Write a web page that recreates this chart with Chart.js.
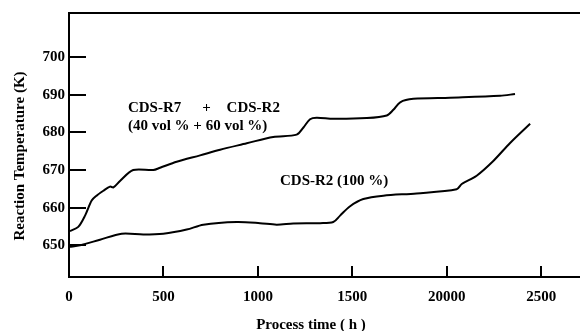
<!DOCTYPE html>
<html>
<head>
<meta charset="utf-8">
<script src="https://cdn.jsdelivr.net/npm/chart.js@4"></script>
<style>
  html, body { margin: 0; padding: 0; background: #fff; }
  #wrap { width: 580px; height: 331px; position: relative; }
</style>
</head>
<body>
<div id="wrap"><canvas id="chart"></canvas></div>
<script>
// values
const mixTime = [5, 49, 85, 120, 146, 182, 217, 235, 270, 340, 446, 482, 570, 694, 800, 941, 1081, 1205, 1241, 1276, 1311, 1399, 1576, 1682, 1717, 1753, 1823, 2017, 2282, 2361];
const mixTemp = [653.8, 654.9, 657.9, 661.9, 663.2, 664.5, 665.6, 665.4, 667.1, 670.0, 670.0, 670.6, 672.2, 673.9, 675.4, 677.1, 678.8, 679.4, 681.3, 683.5, 683.9, 683.6, 683.8, 684.5, 686.0, 688.0, 688.9, 689.2, 689.7, 690.2];

const r2Time = [3, 58, 164, 279, 393, 499, 623, 711, 888, 1011, 1099, 1187, 1329, 1399, 1435, 1488, 1558, 1664, 1840, 2052, 2079, 2158, 2246, 2335, 2441];
const r2Temp = [649.6, 650.0, 651.5, 653.1, 652.9, 653.1, 654.2, 655.5, 656.2, 655.9, 655.5, 655.8, 655.9, 656.2, 657.9, 660.4, 662.3, 663.2, 663.8, 664.9, 666.3, 668.5, 672.4, 677.2, 682.3];

const xTickValues = [0, 500, 1000, 1500, 2000, 2500];
const xTickLabels = ['0', '500', '1000', '1500', '20000', '2500'];
const yTickValues = [650, 660, 670, 680, 690, 700];

const FONT = 'bold 15px "Liberation Serif", "DejaVu Serif", serif';

const toPoints = (xs, ys) => xs.map((x, i) => ({ x: x, y: ys[i] }));

// inner tick marks, top frame line, titles and curve labels
const decorPlugin = {
    id: 'decor',
    afterDraw(chart) {
        const ctx = chart.ctx;
        const a = chart.chartArea;
        const xs = chart.scales.x;
        const ys = chart.scales.y;
        ctx.save();
        ctx.strokeStyle = '#000';
        ctx.lineWidth = 2;
        ctx.beginPath();
        ctx.moveTo(a.left - 1, a.top);
        ctx.lineTo(a.right, a.top);
        yTickValues.forEach(v => {
            const py = Math.round(ys.getPixelForValue(v));
            ctx.moveTo(a.left, py);
            ctx.lineTo(a.left + 17, py);
        });
        xTickValues.forEach(v => {
            const px = Math.round(xs.getPixelForValue(v));
            if (v === 0) return;
            ctx.moveTo(px, a.bottom);
            ctx.lineTo(px, a.bottom - 11);
        });
        ctx.stroke();

        ctx.fillStyle = '#000';
        ctx.font = FONT;
        ctx.textBaseline = 'middle';
        ctx.textAlign = 'left';
        ctx.fillText('CDS-R7', xs.getPixelForValue(312), ys.getPixelForValue(686.4));
        ctx.fillText('+', xs.getPixelForValue(705), ys.getPixelForValue(686.4));
        ctx.fillText('CDS-R2', xs.getPixelForValue(834), ys.getPixelForValue(686.4));
        ctx.fillText('(40 vol % + 60 vol %)', xs.getPixelForValue(312), ys.getPixelForValue(681.6));
        ctx.fillText('CDS-R2 (100 %)', xs.getPixelForValue(1117), ys.getPixelForValue(667.1));

        ctx.textAlign = 'center';
        ctx.fillText('Process time ( h )', xs.getPixelForValue(1281), 325);
        ctx.translate(20, 156);
        ctx.rotate(-Math.PI / 2);
        ctx.fillText('Reaction Temperature (K)', 0, 0);
        ctx.restore();
    }
};

new Chart(document.getElementById('chart'), {
    type: 'line',
    data: {
        datasets: [{
            label: 'CDS-R7 + CDS-R2 (40 vol % + 60 vol %)',
            data: toPoints(mixTime, mixTemp),
            borderColor: '#000',
            borderWidth: 2,
            pointRadius: 0,
            fill: false,
            tension: 0.3
        }, {
            label: 'CDS-R2 (100 %)',
            data: toPoints(r2Time, r2Temp),
            borderColor: '#000',
            borderWidth: 2,
            pointRadius: 0,
            fill: false,
            tension: 0.3
        }]
    },
    options: {
        responsive: true,
        maintainAspectRatio: false,
        animation: false,
        layout: {
            padding: { left: 0, right: 0, top: 10, bottom: 0 }
        },
        scales: {
            x: {
                type: 'linear',
                min: 0,
                max: 2705,
                afterBuildTicks: (scale) => {
                    scale.ticks = xTickValues.map(v => ({ value: v }));
                },
                afterFit: (scale) => {
                    scale.height = 54;
                },
                ticks: {
                    autoSkip: false,
                    maxRotation: 0,
                    padding: 11,
                    color: '#000',
                    font: { family: '"Liberation Serif", "DejaVu Serif", serif', size: 15, weight: 'bold' },
                    callback: (value) => {
                        const i = xTickValues.indexOf(value);
                        return i >= 0 ? xTickLabels[i] : '';
                    }
                },
                grid: {
                    display: false,
                    drawTicks: false
                },
                border: {
                    display: true,
                    color: '#000',
                    width: 2
                }
            },
            y: {
                type: 'linear',
                min: 641.6,
                max: 711.7,
                afterBuildTicks: (scale) => {
                    scale.ticks = yTickValues.map(v => ({ value: v }));
                },
                afterFit: (scale) => {
                    scale.width = 69;
                },
                ticks: {
                    padding: 4,
                    color: '#000',
                    font: { family: '"Liberation Serif", "DejaVu Serif", serif', size: 15, weight: 'bold' }
                },
                grid: {
                    display: false,
                    drawTicks: false
                },
                border: {
                    display: true,
                    color: '#000',
                    width: 2
                }
            }
        },
        plugins: {
            legend: {
                display: false
            },
            tooltip: {
                enabled: false
            }
        }
    },
    plugins: [decorPlugin]
});
</script>
</body>
</html>
